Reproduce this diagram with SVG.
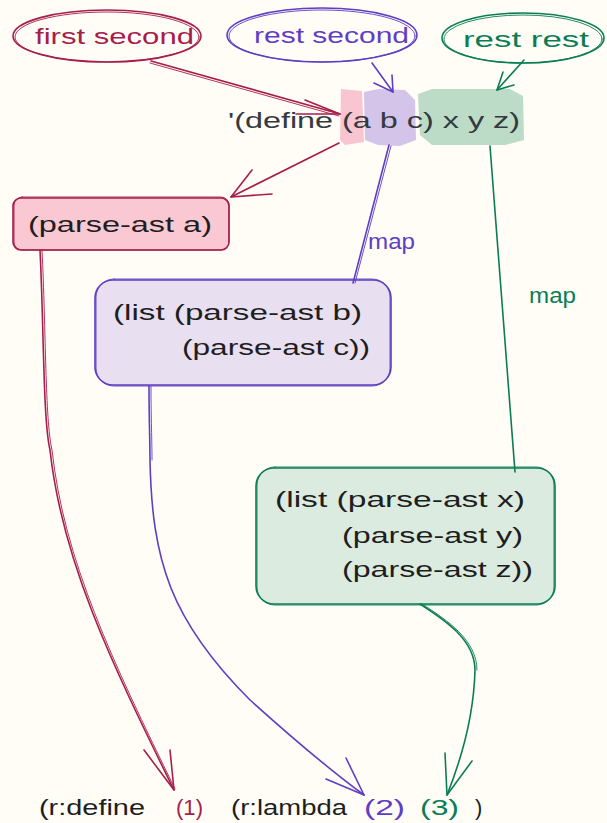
<svg xmlns="http://www.w3.org/2000/svg" width="607" height="823" viewBox="0 0 607 823">
<style>
text{font-family:"Liberation Sans","Noto Sans",sans-serif;font-size:22px;}
.red{stroke:#a61e4d;}
.pur{stroke:#5f3dc4;}
.grn{stroke:#0b7d56;}
.ln{fill:none;stroke-width:1.6;stroke-linecap:round;stroke-linejoin:round;}
.thin{fill:none;stroke-width:0.9;stroke-linecap:round;}
.tr{fill:#a61e4d;}
.tp{fill:#5f3dc4;}
.tg{fill:#0b7d56;}
.tk{fill:#1e1e1e;}
</style>
<rect width="607" height="823" fill="#fffdf6"/>
<g id="highlights">
<path d="M341 89 L362 91 L364 142 L345 145 L340 140 Z" fill="#f9c5d1"/>
<path d="M364 92 L378 89 L405 90 L415 100 L416 140 L400 146 L378 145 L365 140 Z" fill="#d4c4ea"/>
<path d="M418 94 L432 89 L510 89 L523 96 L524 140 L505 145 L432 145 L420 135 Z" fill="#bcdcc8"/>
</g>
<g id="source-text">
<text x="228" y="128" fill="#343a40" font-size="23" textLength="292" lengthAdjust="spacingAndGlyphs">'(define (a b c) x y z)</text>
</g>
<g id="first-second">
<ellipse cx="107" cy="36" rx="94" ry="26" class="ln red"/>
<ellipse cx="107" cy="37" rx="92" ry="25" class="thin red"/>
<text x="35" y="44" class="tr" font-size="23" textLength="159" lengthAdjust="spacingAndGlyphs">first second</text>
</g>
<g id="rest-second">
<ellipse cx="322" cy="35" rx="95" ry="27" class="ln pur"/>
<ellipse cx="322" cy="36" rx="93" ry="26" class="thin pur"/>
<text x="254" y="43" class="tp" font-size="23" textLength="155" lengthAdjust="spacingAndGlyphs">rest second</text>
</g>
<g id="rest-rest">
<ellipse cx="523" cy="38" rx="81" ry="25" class="ln grn"/>
<ellipse cx="523" cy="39" rx="79" ry="24" class="thin grn"/>
<text x="463" y="47" class="tg" font-size="23" textLength="126" lengthAdjust="spacingAndGlyphs">rest rest</text>
</g>
<g id="parse-a">
<rect x="13" y="198" width="216" height="52" rx="8" class="ln red" style="fill:#fac8d3"/>
<rect x="14" y="197" width="215" height="53" rx="8" class="thin red"/>
<text x="28" y="232" class="tk" textLength="184" lengthAdjust="spacingAndGlyphs">(parse-ast a)</text>
</g>
<g id="parse-bc">
<rect x="95" y="280" width="296" height="105" rx="18" class="ln pur" style="fill:#e8e0f0"/>
<rect x="96" y="279" width="294" height="107" rx="18" class="thin pur"/>
<text x="113" y="320" class="tk" textLength="249" lengthAdjust="spacingAndGlyphs">(list (parse-ast b)</text>
<text x="182" y="355" class="tk" textLength="188" lengthAdjust="spacingAndGlyphs">(parse-ast c))</text>
</g>
<g id="parse-xyz">
<rect x="256" y="468" width="299" height="136" rx="18" class="ln grn" style="fill:#dcebdf"/>
<rect x="257" y="467" width="297" height="138" rx="18" class="thin grn"/>
<text x="275" y="507" class="tk" textLength="250" lengthAdjust="spacingAndGlyphs">(list (parse-ast x)</text>
<text x="342" y="543" class="tk" textLength="181" lengthAdjust="spacingAndGlyphs">(parse-ast y)</text>
<text x="342" y="577" class="tk" textLength="191" lengthAdjust="spacingAndGlyphs">(parse-ast z))</text>
</g>
<g id="connectors">
<path d="M151 61 L340 114" class="ln red"/>
<path d="M150 63 L339 116" class="thin red"/>
<path d="M305 100 L340 114 L296 114" class="ln red"/>
<path d="M339 143 L231 197" class="ln red"/>
<path d="M272 194 L231 197 L252 170" class="ln red"/>
<path d="M372 63 L393 92" class="ln pur"/>
<path d="M374 83 L393 92 L392 75" class="ln pur"/>
<path d="M524 60 L497 90" class="ln grn"/>
<path d="M514 85 L497 90 L503 72" class="ln grn"/>
<path d="M389 145 L353 283" class="ln pur"/>
<path d="M391 146 L355 283" class="thin pur"/>
<text x="368" y="249" class="tp" font-size="18" textLength="47" lengthAdjust="spacingAndGlyphs">map</text>
<path d="M490 146 L515 472" class="ln grn"/>
<text x="529" y="303" class="tg" font-size="18" textLength="47" lengthAdjust="spacingAndGlyphs">map</text>
<path d="M40 250 C44 330 43 420 50 450 C62 560 110 660 174 790" class="ln red"/>
<path d="M42 250 C46 330 45 420 52 450 C64 560 112 660 175 789" class="thin red"/>
<path d="M144 750 L174 790 L170 750" class="ln red"/>
<path d="M149 386 C149 420 150 440 150 460 C152 560 170 620 250 700 C300 745 330 770 364 795" class="ln pur"/>
<path d="M151 386 C151 420 152 440 152 460" class="thin pur"/>
<path d="M326 779 L364 795 L346 758" class="ln pur"/>
<path d="M420 604 C445 620 475 640 475 670 C474 710 465 750 447 795" class="ln grn"/>
<path d="M422 604 C447 620 477 640 477 670" class="thin grn"/>
<path d="M445 753 L447 795 L472 761" class="ln grn"/>
</g>
<g id="result">
<text x="39" y="815" class="tk" textLength="106" lengthAdjust="spacingAndGlyphs">(r:define</text>
<text x="176" y="815" class="tr" textLength="27" lengthAdjust="spacingAndGlyphs">(1)</text>
<text x="231" y="815" class="tk" textLength="116" lengthAdjust="spacingAndGlyphs">(r:lambda</text>
<text x="364" y="815" class="tp" textLength="41" lengthAdjust="spacingAndGlyphs">(2)</text>
<text x="420" y="815" class="tg" textLength="39" lengthAdjust="spacingAndGlyphs">(3)</text>
<text x="475" y="815" class="tk">)</text>
</g>
</svg>
